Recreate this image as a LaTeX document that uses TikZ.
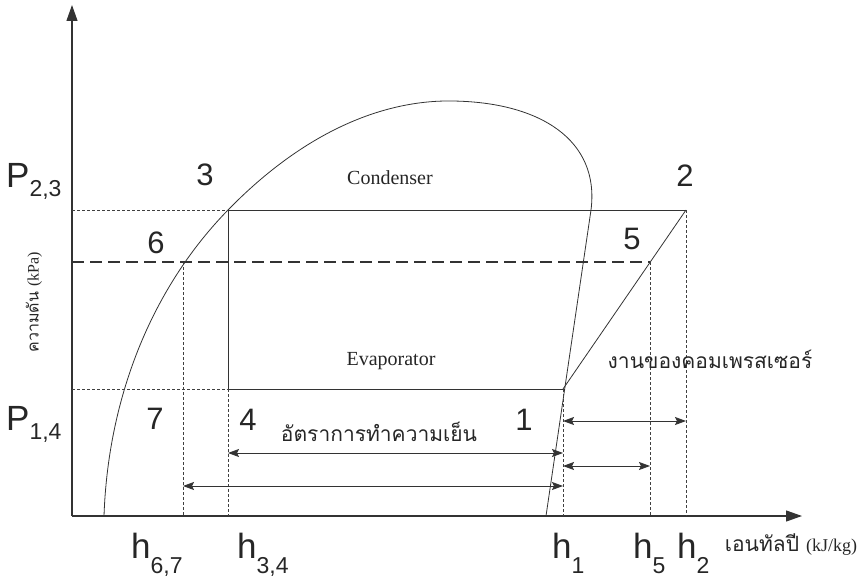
\documentclass[tikz,border=0pt]{standalone}
\usepackage{fontspec}
\setmainfont{Liberation Sans}
\newfontfamily\thaifont[Script=Thai]{Loma}
\newfontfamily\romanfont{Liberation Serif}
\usetikzlibrary{arrows.meta}
\newcommand{\lowidx}[2][9pt]{\raisebox{-#1}{\fontsize{23}{23}\selectfont #2}}

\begin{document}
\begin{tikzpicture}[x=1pt, y=-1pt, >={Stealth[length=11pt,width=8pt,inset=2pt]},
    every node/.style={inner sep=0pt, text=black!85},
    axis/.style={line width=1.2pt, black!80, -{Triangle[length=16pt,width=11pt]}},
    thinline/.style={line width=0.8pt, black!80},
    dotline/.style={line width=0.8pt, black!75, dash pattern=on 3pt off 2pt},
    dashline/.style={line width=1.6pt, black!80, dash pattern=on 12pt off 6pt},
    dimline/.style={line width=0.8pt, black!80, <->},
    lbl/.style={font=\fontsize{35}{35}\selectfont},
    num/.style={font=\fontsize{31}{31}\selectfont},
    engl/.style={font=\romanfont\fontsize{20}{20}\selectfont},
    thai/.style={font=\thaifont\fontsize{21}{21}\selectfont}]
    \useasboundingbox (0,0) rectangle (868,583);

    % จุดของวัฏจักร
    \coordinate (O) at (72,516);
    \coordinate (ytop) at (72,5);
    \coordinate (xend) at (802,516);
    \coordinate (s1) at (563,389);
    \coordinate (s2) at (686,210);
    \coordinate (s3) at (228,210);
    \coordinate (s4) at (228,389);
    \coordinate (s5) at (650,262);
    \coordinate (s6) at (183,262);

    % แกน
    \draw[axis] (O) -- (ytop);
    \draw[axis] (O) -- (xend);

    % โดมอิ่มตัว
    \draw[thinline] (104,516) .. controls (108,400) and (150,290) .. (s3)
        .. controls (306,130) and (385,100) .. (452,101)
        .. controls (540,102) and (600,140) .. (591,210) -- (546,516);

    % ความดันสูงและต่ำ
    \draw[dotline] (O |- s3) -- (s3);
    \draw[thinline] (s3) -- (s2);
    \draw[dashline] (O |- s5) -- (s5);
    \draw[dotline] (O |- s4) -- (s4);
    \draw[thinline] (s4) -- (s1);
    \draw[thinline] (s3) -- (s4);
    \draw[thinline] (s1) -- (s2);

    % เส้นฉายลงแกน h
    \draw[dotline] (s4) -- (s4 |- O);
    \draw[dotline] (s6) -- (s6 |- O);
    \draw[dotline] (s1) -- (s1 |- O);
    \draw[dotline] (s5) -- (s5 |- O);
    \draw[dotline] (s2) -- (s2 |- O);

    % ลูกศรบอกช่วง
    \draw[dimline] (s4 |- 0,453) -- (s1 |- 0,453);
    \draw[dimline] (s6 |- 0,486) -- (s1 |- 0,486);
    \draw[dimline] (s1 |- 0,421) -- (s2 |- 0,421);
    \draw[dimline] (s1 |- 0,466) -- (s5 |- 0,466);

    % ป้ายชื่อ
    \node[lbl, anchor=base west] (p23) at (6,188) {P\lowidx{2,3}};
    \node[lbl, anchor=base west] (p14) at (6,430) {P\lowidx{1,4}};
    \node[num] (n3) at (205,175) {3};
    \node[num] (n2) at (685,176) {2};
    \node[num] (n6) at (156,243) {6};
    \node[num] (n5) at (632,239) {5};
    \node[num] (n7) at (155,419) {7};
    \node[num] (n4) at (248,420) {4};
    \node[num] (n1) at (524,420) {1};
    \node[engl] (cond) at (390,178) {Condenser};
    \node[engl] (evap) at (391,361) {Evaporator};
    \node[thai] (cool) at (379,432) {อัตราการทำความเย็น};
    \node[thai] (work) at (710,359) {งานของคอมเพรสเซอร์};
    \node[rotate=90, font=\thaifont\fontsize{16}{16}\selectfont] (ylab) at (34,302)
        {ความดัน {\romanfont\fontsize{16}{16}\selectfont(kPa)}};
    \node[font=\thaifont\fontsize{21}{21}\selectfont] (xlab) at (791,545)
        {เอนทัลปี {\romanfont\fontsize{18}{18}\selectfont(kJ/kg)}};
    \node[lbl, anchor=base west] (h67) at (131,558) {h\lowidx[15pt]{6,7}};
    \node[lbl, anchor=base west] (h34) at (237,558) {h\lowidx[15pt]{3,4}};
    \node[lbl, anchor=base west] (h1) at (552,558) {h\lowidx[15pt]{1}};
    \node[lbl, anchor=base west] (h5) at (633,558) {h\lowidx[15pt]{5}};
    \node[lbl, anchor=base west] (h2) at (677,558) {h\lowidx[15pt]{2}};
\end{tikzpicture}
\end{document}
